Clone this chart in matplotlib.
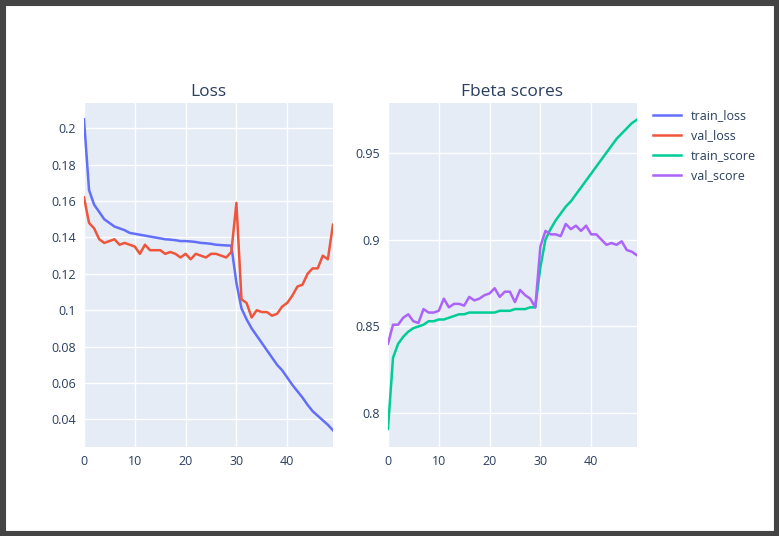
import numpy as np
import matplotlib
matplotlib.use("Agg")
import matplotlib.pyplot as plt
from matplotlib.patches import Rectangle

epochs = np.arange(50)
train_loss = [0.205, 0.166, 0.158, 0.154, 0.150, 0.148, 0.146, 0.145, 0.144, 0.1425,
              0.142, 0.1415, 0.141, 0.1405, 0.140, 0.1395, 0.139, 0.1388, 0.1385, 0.138,
              0.138, 0.1378, 0.1375, 0.137, 0.1368, 0.1365, 0.136, 0.1358, 0.1356, 0.1355,
              0.115, 0.101, 0.095, 0.090, 0.086, 0.082, 0.078, 0.074, 0.070, 0.067,
              0.063, 0.059, 0.0555, 0.052, 0.048, 0.0445, 0.042, 0.0395, 0.037, 0.034]
val_loss = [0.162, 0.148, 0.145, 0.139, 0.137, 0.138, 0.139, 0.136, 0.137, 0.136,
            0.135, 0.131, 0.136, 0.133, 0.133, 0.133, 0.131, 0.132, 0.131, 0.129,
            0.131, 0.128, 0.131, 0.130, 0.129, 0.131, 0.131, 0.130, 0.129, 0.132,
            0.159, 0.106, 0.104, 0.096, 0.100, 0.099, 0.099, 0.097, 0.098, 0.102,
            0.104, 0.108, 0.113, 0.114, 0.120, 0.123, 0.123, 0.130, 0.128, 0.147]
train_score = [0.791, 0.832, 0.840, 0.844, 0.847, 0.849, 0.850, 0.851, 0.853, 0.853,
               0.854, 0.854, 0.855, 0.856, 0.857, 0.857, 0.858, 0.858, 0.858, 0.858,
               0.858, 0.858, 0.859, 0.859, 0.859, 0.860, 0.860, 0.860, 0.861, 0.861,
               0.884, 0.900, 0.906, 0.911, 0.915, 0.919, 0.922, 0.926, 0.930, 0.934,
               0.938, 0.942, 0.946, 0.950, 0.954, 0.958, 0.961, 0.964, 0.967, 0.969]
val_score = [0.840, 0.851, 0.851, 0.855, 0.857, 0.853, 0.852, 0.860, 0.858, 0.858,
             0.859, 0.866, 0.861, 0.863, 0.863, 0.862, 0.867, 0.865, 0.866, 0.868,
             0.869, 0.872, 0.867, 0.870, 0.870, 0.864, 0.871, 0.868, 0.866, 0.861,
             0.896, 0.905, 0.903, 0.903, 0.902, 0.909, 0.906, 0.908, 0.905, 0.908,
             0.903, 0.903, 0.900, 0.897, 0.898, 0.897, 0.899, 0.894, 0.893, 0.891]

plt.rcParams['font.family'] = ['Open Sans', 'DejaVu Sans']
txt = '#2a3f5f'

fig = plt.figure(figsize=(7.79, 5.36), dpi=100, facecolor='white')
fig.patches.append(Rectangle((0, 0), 1, 1, transform=fig.transFigure, fill=False,
                             edgecolor='#444444', linewidth=8))

ax1 = fig.add_axes([0.1078, 0.166, 0.3196, 0.6418])
ax2 = fig.add_axes([0.498, 0.166, 0.3196, 0.6418])

l1, = ax1.plot(epochs, train_loss, color='#636efa', lw=1.8, label='train_loss')
l2, = ax1.plot(epochs, val_loss, color='#ef553b', lw=1.8, label='val_loss')
l3, = ax2.plot(epochs, train_score, color='#00cc96', lw=1.8, label='train_score')
l4, = ax2.plot(epochs, val_score, color='#ab63fa', lw=1.8, label='val_score')

ax1.set_ylim(0.0248, 0.2139)
ax1.set_yticks([0.04, 0.06, 0.08, 0.1, 0.12, 0.14, 0.16, 0.18, 0.2])
ax1.set_yticklabels(['0.04', '0.06', '0.08', '0.1', '0.12', '0.14', '0.16', '0.18', '0.2'])
ax2.set_ylim(0.7806, 0.9786)
ax2.set_yticks([0.8, 0.85, 0.9, 0.95])
ax2.set_yticklabels(['0.8', '0.85', '0.9', '0.95'])

for ax, title in [(ax1, 'Loss'), (ax2, 'Fbeta scores')]:
    ax.set_xlim(0, 49)
    ax.set_xticks([0, 10, 20, 30, 40])
    ax.set_facecolor('#e5ecf6')
    ax.grid(True, color='white', lw=1)
    ax.set_axisbelow(True)
    for s in ax.spines.values():
        s.set_visible(False)
    ax.tick_params(length=0, labelsize=9, colors=txt, pad=6)
    ax.set_title(title, fontsize=12.5, color=txt, pad=5)

fig.legend(handles=[l1, l2, l3, l4], loc='upper left', bbox_to_anchor=(0.832, 0.805),
           frameon=False, fontsize=9, labelcolor=txt, handlelength=2.2,
           labelspacing=0.55, borderaxespad=0)

fig.savefig('out.png', dpi=100, facecolor='white')
